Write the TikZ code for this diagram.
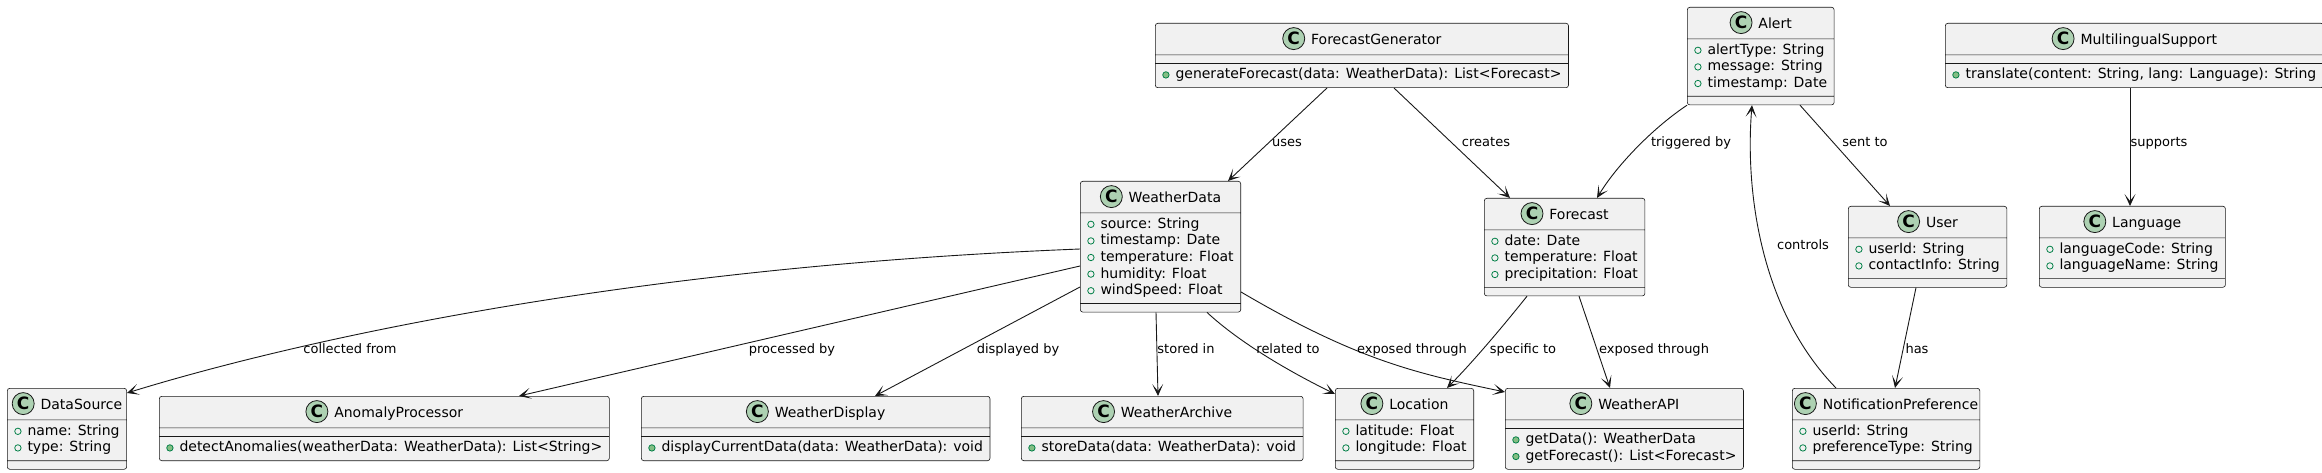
\documentclass[tikz,border=0pt]{standalone}
\usepackage{fontspec}
\setmainfont{DejaVu Sans}
\usetikzlibrary{arrows.meta,shapes.multipart}
\definecolor{boxfill}{RGB}{241,241,241}
\definecolor{boxline}{RGB}{24,24,24}
\definecolor{iconfill}{RGB}{173,209,178}
\definecolor{fieldgreen}{RGB}{3,128,72}
\definecolor{methodfill}{RGB}{132,190,132}

\newsavebox\classiconbox
\newsavebox\fieldiconbox
\newsavebox\methodiconbox
\newcommand{\classhead}[1]{\makebox[0pt]{\usebox\classiconbox\hspace{6pt}#1}\rule[-6.5pt]{0pt}{24pt}}
\newcommand{\fieldmark}{\usebox\fieldiconbox\hspace{6pt}}
\newcommand{\methodmark}{\usebox\methodiconbox\hspace{6pt}}
\newcommand{\members}[1]{\begin{tabular}{@{}l@{}}#1\end{tabular}}
\newcommand{\nomembers}{\rule{0pt}{1pt}}

\begin{document}
\sbox\classiconbox{\begin{pgfpicture}
  \pgfpathcircle{\pgfpointorigin}{11pt}
  \pgfsetfillcolor{iconfill}\pgfsetstrokecolor{boxline}\pgfsetlinewidth{0.8pt}
  \pgfusepath{fill,stroke}
  \pgftext{\fontsize{17}{17}\selectfont\bfseries C}
  \pgfsetbaseline{-6pt}
\end{pgfpicture}}
\sbox\fieldiconbox{\begin{pgfpicture}
  \pgfpathcircle{\pgfpoint{3.5pt}{0pt}}{3.2pt}
  \pgfsetstrokecolor{fieldgreen}\pgfsetlinewidth{0.8pt}
  \pgfusepath{stroke}
  \pgfsetbaseline{-4pt}
\end{pgfpicture}}
\sbox\methodiconbox{\begin{pgfpicture}
  \pgfpathcircle{\pgfpoint{3.5pt}{0pt}}{3.2pt}
  \pgfsetfillcolor{methodfill}\pgfsetstrokecolor{fieldgreen}\pgfsetlinewidth{0.8pt}
  \pgfusepath{fill,stroke}
  \pgfsetbaseline{-4pt}
\end{pgfpicture}}
\begin{tikzpicture}[x=1pt, y=-1pt,
  umlclass/.style={rectangle split, rectangle split parts=3,
    rectangle split part align={center,left,left},
    draw=boxline, line width=0.6pt, fill=boxfill, rounded corners=2.5pt,
    inner xsep=7pt, inner ysep=3.5pt, anchor=north west,
    font=\fontsize{14}{16.6}\selectfont},
  rel/.style={draw=boxline, line width=0.9pt, -{Stealth[length=12pt,width=11pt,inset=7pt]}},
  lbl/.style={font=\fontsize{13}{15}\selectfont, inner sep=0pt, anchor=base}]
\useasboundingbox (0,0) rectangle (2322,473);

% top row
\node[umlclass, minimum width=411pt] (ForecastGenerator) at (1155,23) {\classhead{ForecastGenerator}\nodepart{two}\nomembers\nodepart{three}\members{\methodmark generateForecast(data: WeatherData): List<Forecast>}};
\node[umlclass, minimum width=143pt] (Alert) at (1687,7) {\classhead{Alert}\nodepart{two}\members{\fieldmark alertType: String\\\fieldmark message: String\\\fieldmark timestamp: Date}\nodepart{three}\nomembers};
\node[umlclass, minimum width=371pt] (MultilingualSupport) at (1945,23) {\classhead{MultilingualSupport}\nodepart{two}\nomembers\nodepart{three}\members{\methodmark translate(content: String, lang: Language): String}};

% middle row
\node[umlclass, minimum width=158pt] (WeatherData) at (1080,181) {\classhead{WeatherData}\nodepart{two}\members{\fieldmark source: String\\\fieldmark timestamp: Date\\\fieldmark temperature: Float\\\fieldmark humidity: Float\\\fieldmark windSpeed: Float}\nodepart{three}\nomembers};
\node[umlclass, minimum width=157pt] (Forecast) at (1484,198) {\classhead{Forecast}\nodepart{two}\members{\fieldmark date: Date\\\fieldmark temperature: Float\\\fieldmark precipitation: Float}\nodepart{three}\nomembers};
\node[umlclass, minimum width=155pt] (User) at (1848,206) {\classhead{User}\nodepart{two}\members{\fieldmark userId: String\\\fieldmark contactInfo: String}\nodepart{three}\nomembers};
\node[umlclass, minimum width=183pt] (Language) at (2039,206) {\classhead{Language}\nodepart{two}\members{\fieldmark languageCode: String\\\fieldmark languageName: String}\nodepart{three}\nomembers};

% bottom row
\node[umlclass, minimum width=116pt] (DataSource) at (7,388) {\classhead{DataSource}\nodepart{two}\members{\fieldmark name: String\\\fieldmark type: String}\nodepart{three}\nomembers};
\node[umlclass, minimum width=446pt] (AnomalyProcessor) at (159,396) {\classhead{AnomalyProcessor}\nodepart{two}\nomembers\nodepart{three}\members{\methodmark detectAnomalies(weatherData: WeatherData): List<String>}};
\node[umlclass, minimum width=345pt] (WeatherDisplay) at (641,396) {\classhead{WeatherDisplay}\nodepart{two}\nomembers\nodepart{three}\members{\methodmark displayCurrentData(data: WeatherData): void}};
\node[umlclass, minimum width=278pt] (WeatherArchive) at (1021,396) {\classhead{WeatherArchive}\nodepart{two}\nomembers\nodepart{three}\members{\methodmark storeData(data: WeatherData): void}};
\node[umlclass, minimum width=135pt] (Location) at (1335,388) {\classhead{Location}\nodepart{two}\members{\fieldmark latitude: Float\\\fieldmark longitude: Float}\nodepart{three}\nomembers};
\node[umlclass, minimum width=236pt] (WeatherAPI) at (1505,388) {\classhead{WeatherAPI}\nodepart{two}\nomembers\nodepart{three}\members{\methodmark getData(): WeatherData\\\methodmark getForecast(): List<Forecast>}};
\node[umlclass, minimum width=187pt] (NotificationPreference) at (1792,388) {\classhead{NotificationPreference}\nodepart{two}\members{\fieldmark userId: String\\\fieldmark preferenceType: String}\nodepart{three}\nomembers};

% relations
\draw[rel] ([xshift=172pt]ForecastGenerator.south west) -- ([xshift=148pt]WeatherData.north west);
\draw[rel] ([xshift=239pt]ForecastGenerator.south west) -- ([xshift=26pt]Forecast.north west);
\draw[rel] (Alert.south west) .. controls (1650,130) and (1615,168) .. ([xshift=113pt]Forecast.north west);
\draw[rel] ([xshift=113pt]Alert.south west) -- ([xshift=42pt]User.north west);
\draw[rel] ([xshift=44pt]NotificationPreference.north west) .. controls (1760,310) and (1745,190) .. ([xshift=65pt]Alert.south west);
\draw[rel] ([xshift=185pt]MultilingualSupport.south west) -- ([xshift=91pt]Language.north west);
\draw[rel] ([xshift=68pt]User.south west) -- ([xshift=103pt]NotificationPreference.north west);
\draw[rel] ([yshift=-68pt]WeatherData.north west) .. controls (600,268) and (273,348) .. ([yshift=-5pt]DataSource.north east);
\draw[rel] ([yshift=-85pt]WeatherData.north west) -- ([xshift=360pt]AnomalyProcessor.north west);
\draw[rel] ([yshift=-106pt]WeatherData.north west) -- ([xshift=234pt]WeatherDisplay.north west);
\draw[rel] ([xshift=76pt]WeatherData.south west) -- ([xshift=137pt]WeatherArchive.north west);
\draw[rel] ([xshift=127pt]WeatherData.south west) .. controls (1240,343) and (1290,372) .. ([yshift=-6pt]Location.north west);
\draw[rel] ([yshift=-111pt]WeatherData.north east) .. controls (1360,362) and (1420,374) .. ([yshift=-4pt]WeatherAPI.north west);
\draw[rel] ([xshift=43pt]Forecast.south west) .. controls (1500,330) and (1470,365) .. ([xshift=112pt]Location.north west);
\draw[rel] ([xshift=95pt]Forecast.south west) -- ([xshift=105pt]WeatherAPI.north west);

% labels
\node[lbl] (usesLbl) at (1287,147) {uses};
\node[lbl] (createsLbl) at (1486,147) {creates};
\node[lbl] (triggeredLbl) at (1691,147) {triggered by};
\node[lbl] (sentLbl) at (1865,147) {sent to};
\node[lbl] (supportsLbl) at (2159,147) {supports};
\node[lbl] (controlsLbl) at (1803,250) {controls};
\node[lbl] (collectedLbl) at (350,353) {collected from};
\node[lbl] (processedLbl) at (792,353) {processed by};
\node[lbl] (displayedLbl) at (1018,353) {displayed by};
\node[lbl] (storedLbl) at (1186,353) {stored in};
\node[lbl] (relatedLbl) at (1288,353) {related to};
\node[lbl] (exposedALbl) at (1412,353) {exposed through};
\node[lbl] (specificLbl) at (1523,353) {specific to};
\node[lbl] (exposedBLbl) at (1654,353) {exposed through};
\node[lbl] (hasLbl) at (1917,353) {has};
\end{tikzpicture}
\end{document}
